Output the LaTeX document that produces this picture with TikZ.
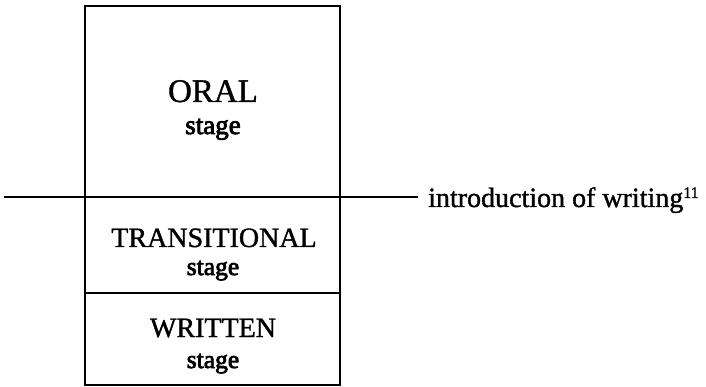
\documentclass[tikz,border=0pt]{standalone}
\usepackage{fontspec}
\setmainfont[FakeBold=1.2]{Liberation Serif}
\newfontfamily\stagefont[FakeBold=3]{Liberation Serif}
\begin{document}
\begin{tikzpicture}[x=1pt,y=-1pt,
  rule/.style={line width=1.7pt},
  big/.style={font=\fontsize{33}{36}\selectfont, anchor=base, inner sep=0pt},
  mid/.style={font=\fontsize{28}{32}\selectfont, anchor=base, inner sep=0pt},
  small/.style={font=\stagefont\fontsize{25.5}{28}\selectfont, anchor=base, inner sep=0pt},
  oralsmall/.style={font=\stagefont\fontsize{27}{30}\selectfont, anchor=base, inner sep=0pt}]
  \useasboundingbox (0,0) rectangle (706,387);

  % corner and divider points of the stage column
  \coordinate (tl) at (85,6);
  \coordinate (br) at (340,385);
  \coordinate (dl) at (85,293);
  \coordinate (dr) at (340,293);

  % the column and the division between transitional and written stages
  \draw[rule] (tl) rectangle (br);
  \draw[rule] (dl) -- (dr);

  % line marking the introduction of writing
  \coordinate (lineL) at (4,197);
  \coordinate (lineR) at (418,197);
  \draw[rule] (lineL) -- (lineR);
  \node[mid, anchor=base west] (intro) at (428,207)
    {introduction of writing\raisebox{9pt}{\fontsize{16}{16}\selectfont 11}};

  % stage labels
  \node[big] (oral) at (213,102) {ORAL};
  \node[oralsmall] (oralst) at (213,134) {stage};
  \node[mid] (trans) at (214,247) {TRANSITIONAL};
  \node[small] (transst) at (213,275) {stage};
  \node[mid] (writ) at (213,337) {WRITTEN};
  \node[small] (writst) at (213,368) {stage};
\end{tikzpicture}
\end{document}
